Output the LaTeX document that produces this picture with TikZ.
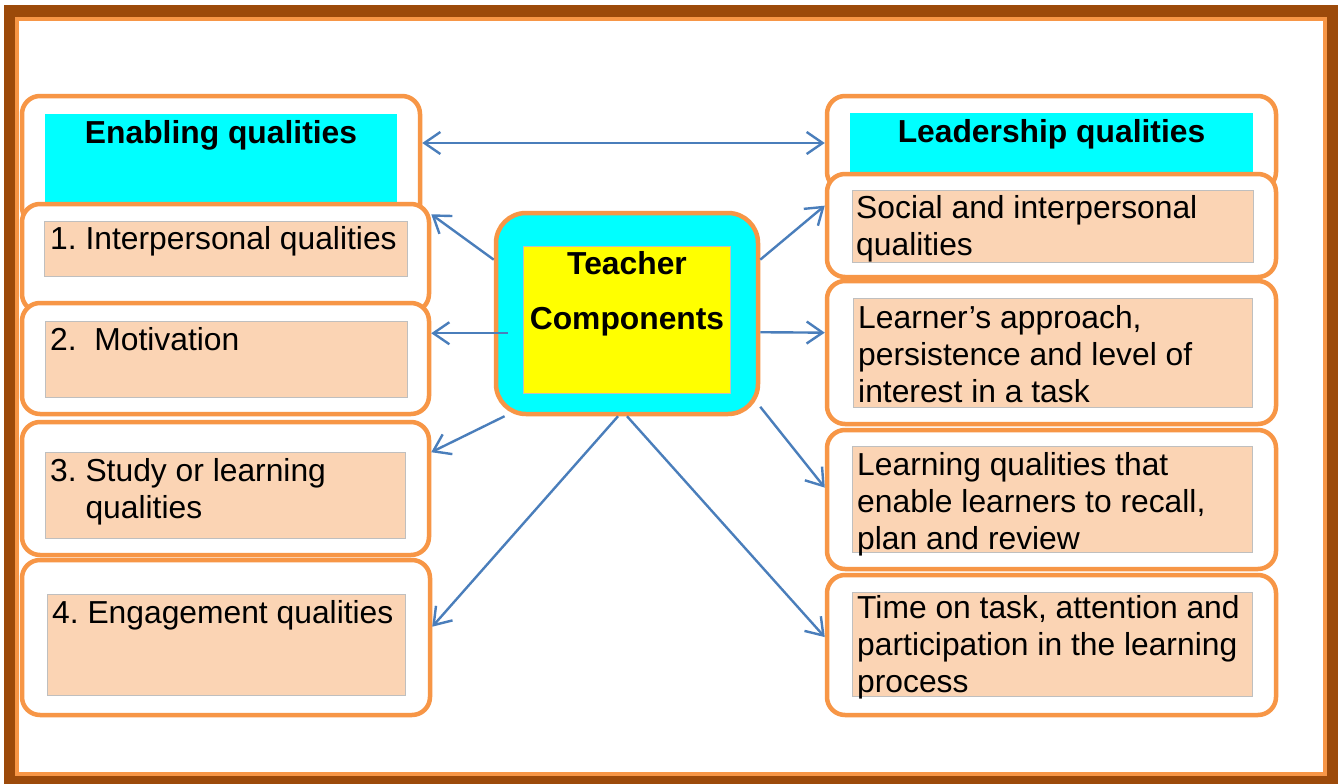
\documentclass[tikz,border=0pt]{standalone}
\usepackage{fontspec}
\setmainfont{Liberation Sans}
\usetikzlibrary{arrows.meta,calc}
\definecolor{boxorange}{RGB}{247,150,70}
\definecolor{framebrown}{RGB}{156,74,10}
\definecolor{linkblue}{RGB}{74,126,187}
\definecolor{peach}{RGB}{251,212,180}
\definecolor{headcyan}{RGB}{0,255,255}
\definecolor{hubyellow}{RGB}{255,255,0}
\begin{document}
\frenchspacing
\begin{tikzpicture}[x=1pt,y=-1pt,
  >={Straight Barb[length=16pt,width=22pt]},
  obox/.style={draw=boxorange, line width=4.5pt, fill=white, rounded corners=18pt, inner sep=0},
  hbox/.style={fill=headcyan, inner sep=0},
  pbox/.style={fill=peach, draw=black!25, line width=0.8pt, inner sep=0},
  itxt/.style={anchor=north west, inner sep=0, align=left, font=\fontsize{31.8}{37}\selectfont},
  htxt/.style={anchor=base, inner sep=0, font=\bfseries\fontsize{31.8}{37}\selectfont},
  link/.style={->, draw=linkblue, line width=2.4pt}]
\useasboundingbox[fill=white] (0,0) rectangle (1344,784);
% frame
\fill[framebrown] (4,5) rectangle (1338,784);
\fill[boxorange] (15,17) rectangle (1327,776);
\fill[white] (19,21) rectangle (1323,772);
% enabling qualities
\node[obox, minimum width=398pt, minimum height=129pt] (ob1) at (221,160.5){};
\node[hbox, minimum width=352pt, minimum height=90pt] (hb1) at (221,159){};
\node[htxt] (ht1) at (221,143){Enabling qualities};
\node[obox, minimum width=407pt, minimum height=108pt] (ob2) at (225.5,258){};
\node[pbox, minimum width=363pt, minimum height=55pt] (pb2) at (225.5,248.5){};
\node[itxt] (it2) at (50,226){1. Interpersonal qualities};
\node[obox, minimum width=407pt, minimum height=111pt] (ob3) at (225.5,358.5){};
\node[pbox, minimum width=362pt, minimum height=76pt] (pb3) at (226,359.5){};
\node[itxt] (it3) at (50,327){2.\ \ Motivation};
\node[obox, minimum width=407pt, minimum height=133pt] (ob4) at (225.5,488.5){};
\node[pbox, minimum width=360pt, minimum height=86pt] (pb4) at (225,495){};
\node[itxt] (it4) at (50,458){3. Study or learning\\\phantom{3.\ }qualities};
\node[obox, minimum width=408pt, minimum height=155pt] (ob5) at (226,637.5){};
\node[pbox, minimum width=358pt, minimum height=101pt] (pb5) at (226,644.5){};
\node[itxt] (it5) at (52,600){4. Engagement qualities};
% leadership qualities
\node[obox, minimum width=449pt, minimum height=94pt] (ob6) at (1051.5,143){};
\node[hbox, minimum width=403pt, minimum height=61pt] (hb6) at (1051.5,143.5){};
\node[htxt] (ht6) at (1051.5,142){Leadership qualities};
\node[obox, minimum width=449pt, minimum height=103pt] (ob7) at (1051.5,225.5){};
\node[pbox, minimum width=401pt, minimum height=72pt] (pb7) at (1052.5,226){};
\node[itxt] (it7) at (856,195){Social and interpersonal\\qualities};
\node[obox, minimum width=449pt, minimum height=143pt] (ob8) at (1051.5,352.5){};
\node[pbox, minimum width=399pt, minimum height=109pt] (pb8) at (1052.5,352.5){};
\node[itxt] (it8) at (858,305){Learner’s approach,\\persistence and level of\\interest in a task};
\node[obox, minimum width=449pt, minimum height=139pt] (ob9) at (1051.5,499.5){};
\node[pbox, minimum width=400pt, minimum height=106pt] (pb9) at (1052,499){};
\node[itxt] (it9) at (857,452){Learning qualities that\\enable learners to recall,\\plan and review};
\node[obox, minimum width=449pt, minimum height=140pt] (ob10) at (1051.5,645){};
\node[pbox, minimum width=400pt, minimum height=104pt] (pb10) at (1052,644){};
\node[itxt] (it10) at (857,595){Time on task, attention and\\participation in the learning\\process};
% teacher components
\node[obox, fill=headcyan, rounded corners=30pt, minimum width=262pt, minimum height=201pt] (tc) at (627,313.5){};
\node[pbox, fill=hubyellow, minimum width=207pt, minimum height=147pt] (yc) at (626.5,319.5){};
\node[htxt, anchor=north, align=center, font=\bfseries\fontsize{31.8}{55}\selectfont] (tt) at (627,251){Teacher\\Components};
% arrows
\draw[link, <->] (ob1.east |- ob6.west) -- (ob6.west);
\draw[link] (tc.158) -- (ob2.12);
\draw[link] ($(tc.west |- ob3.7)+(14,0)$) -- (ob3.7);
\draw[link] (tc.220) -- (ob4.10);
\draw[link] (tc.265) -- (ob5.3);
\draw[link] (tc.south) -- (ob10.178);
\draw[link] (tc.-35) -- (ob9.177);
\draw[link] (tc.-8) -- (ob8.175);
\draw[link] (tc.22) -- (ob7.175);
\end{tikzpicture}
\end{document}
